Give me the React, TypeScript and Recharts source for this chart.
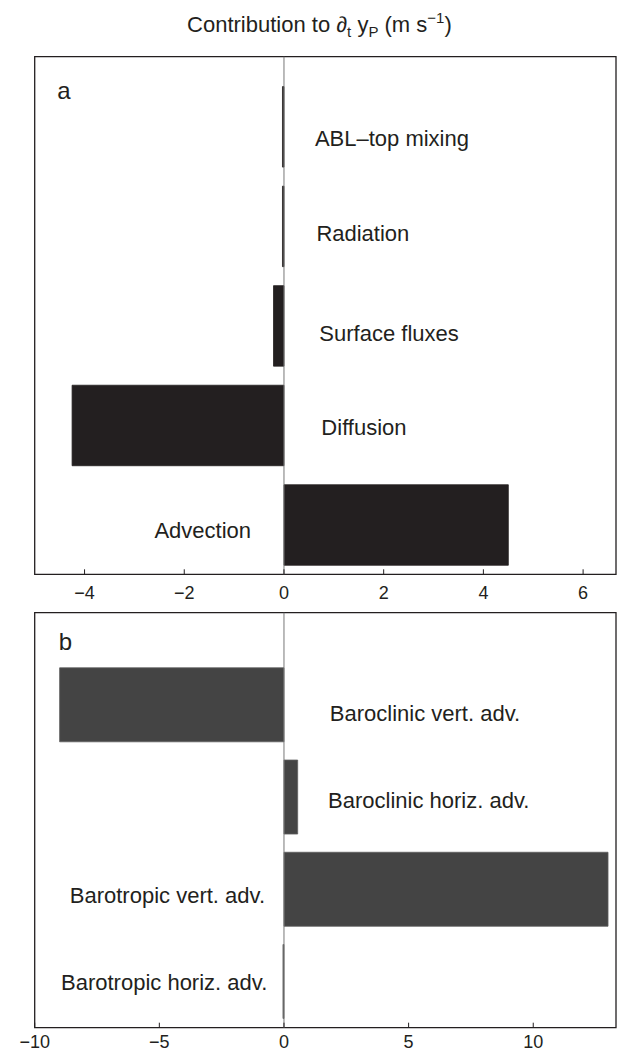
import React from 'react';
import { BarChart, Bar, XAxis, YAxis, ReferenceLine, ReferenceArea, ReferenceDot } from 'recharts';

const FONT = '"Liberation Sans", Arial, Helvetica, sans-serif';
const INK = '#231f20';

// Panel a
const panelACategories = ['ABL\u2013top mixing', 'Radiation', 'Surface fluxes', 'Diffusion', 'Advection'];
const panelAValues = [-0.03, -0.03, -0.21, -4.25, 4.5];
const panelATicks = [-4, -2, 0, 2, 4, 6];
const panelADomain: [number, number] = [-5, 6.66];
const panelALabelX = [0.62, 0.65, 0.71, 0.75, -0.66];
const panelALabelAnchor = ['start', 'start', 'start', 'start', 'end'];
const panelALabelDy = [19.9, 15.4, 15.6, 9.9, 13.6];

// Panel b
const panelBCategories = ['Baroclinic vert. adv.', 'Baroclinic horiz. adv.', 'Barotropic vert. adv.', 'Barotropic horiz. adv.'];
const panelBValues = [-9.0, 0.55, 13.0, -0.04];
const panelBTicks = [-10, -5, 0, 5, 10];
const panelBDomain: [number, number] = [-10, 13.32];
const panelBLabelX = [1.84, 1.77, -0.76, -0.67];
const panelBLabelAnchor = ['start', 'start', 'end', 'end'];
const panelBLabelDy = [16.4, 10.9, 13.9, 8.2];

const fmt = (v: number) => (v < 0 ? `\u2212${Math.abs(v)}` : `${v}`);

type PanelProps = {
  categories: string[];
  values: number[];
  ticks: number[];
  domain: [number, number];
  topPad: number;
  labelX: number[];
  labelAnchor: string[];
  labelDy: number[];
  fill: string;
  stroke: string;
  barSize: number;
  height: number;
  tickGap: number;
  margin: { top: number; right: number; bottom: number; left: number };
};

function Panel(p: PanelProps) {
  const n = p.categories.length;
  // position 1 is the top row, n the bottom row
  const data = p.categories.map((c, i) => ({ name: c, pos: i + 1, value: p.values[i] }));
  const yTicks = data.map((d) => d.pos);
  return (
    <BarChart layout="vertical" width={619} height={p.height} data={data} margin={p.margin}>
      <XAxis
        type="number"
        dataKey="value"
        domain={p.domain}
        ticks={p.ticks}
        allowDataOverflow
        interval={0}
        tickFormatter={fmt}
        tickSize={-5}
        tickMargin={p.tickGap}
        height={20}
        axisLine={false}
        tickLine={{ stroke: INK, strokeWidth: 1 }}
        tick={{ fontSize: 18, fill: INK, fontFamily: FONT }}
      />
      <XAxis
        xAxisId="top"
        orientation="top"
        type="number"
        domain={p.domain}
        ticks={p.ticks}
        allowDataOverflow
        interval={0}
        tick={false}
        tickSize={-5}
        height={0}
        axisLine={false}
        tickLine={{ stroke: INK, strokeWidth: 1 }}
      />
      <YAxis type="number" dataKey="pos" domain={[1 - p.topPad, n + 0.5]} ticks={yTicks} allowDataOverflow hide />
      <ReferenceLine x={0} stroke="#777" strokeWidth={1} />
      <Bar dataKey="value" fill={p.fill} stroke={p.stroke} strokeWidth={0.8} barSize={p.barSize} isAnimationActive={false} />
      <ReferenceArea x1={p.domain[0]} x2={p.domain[1]} fill="none" fillOpacity={0} stroke={INK} strokeWidth={1.3} />
      {data.map((d, i) => (
        <ReferenceDot
          key={d.name}
          x={p.labelX[i]}
          y={d.pos}
          r={0}
          fill="none"
          stroke="none"
          label={(lp: any) => {
            const vb = lp.viewBox || {};
            const cx = (vb.x ?? 0) + (vb.width ?? 0) / 2;
            const cy = (vb.y ?? 0) + (vb.height ?? 0) / 2;
            return (
              <text
                x={cx}
                y={cy + p.labelDy[i]}
                textAnchor={p.labelAnchor[i] as any}
                fontSize={22}
                fontFamily={FONT}
                fill={INK}
              >
                {d.name}
              </text>
            );
          }}
        />
      ))}
    </BarChart>
  );
}

export default function App() {
  return (
    <div style={{ position: 'absolute', left: 0, top: 0, width: 619, height: 1052, background: '#fff', overflow: 'hidden' }}>
      <div style={{ position: 'absolute', left: 0, top: 0 }}>
        <Panel
          categories={panelACategories}
          values={panelAValues}
          ticks={panelATicks}
          domain={panelADomain}
          topPad={0.7}
          labelX={panelALabelX}
          labelAnchor={panelALabelAnchor}
          labelDy={panelALabelDy}
          fill={INK}
          stroke={INK}
          barSize={80.5}
          height={620}
          tickGap={17}
          margin={{ top: 56.7, right: 3, bottom: 25.7, left: 34.7 }}
        />
      </div>
      <div style={{ position: 'absolute', left: 0, top: 600 }}>
        <Panel
          categories={panelBCategories}
          values={panelBValues}
          ticks={panelBTicks}
          domain={panelBDomain}
          topPad={1}
          labelX={panelBLabelX}
          labelAnchor={panelBLabelAnchor}
          labelDy={panelBLabelDy}
          fill="#444444"
          stroke="#5e5e5e"
          barSize={74}
          height={452}
          tickGap={12.5}
          margin={{ top: 12.7, right: 3, bottom: 4.3, left: 34.7 }}
        />
      </div>
      <svg width={619} height={1052} style={{ position: 'absolute', left: 0, top: 0, pointerEvents: 'none' }}>
        <text x={319.4} y={32} textAnchor="middle" fontSize={22} fontFamily={FONT} fill={INK}>
          Contribution to {'\u2202'}
          <tspan dy={5} fontSize={15}>t</tspan>
          <tspan dy={-5}> y</tspan>
          <tspan dy={5} fontSize={15}>P</tspan>
          <tspan dy={-5}> (m s</tspan>
          <tspan dy={-9} fontSize={15}>{'\u22121'}</tspan>
          <tspan dy={9}>)</tspan>
        </text>
        <text x={57.3} y={99.3} fontSize={24} fontFamily={FONT} fill={INK}>a</text>
        <text x={58.7} y={650} fontSize={24} fontFamily={FONT} fill={INK}>b</text>
      </svg>
    </div>
  );
}
